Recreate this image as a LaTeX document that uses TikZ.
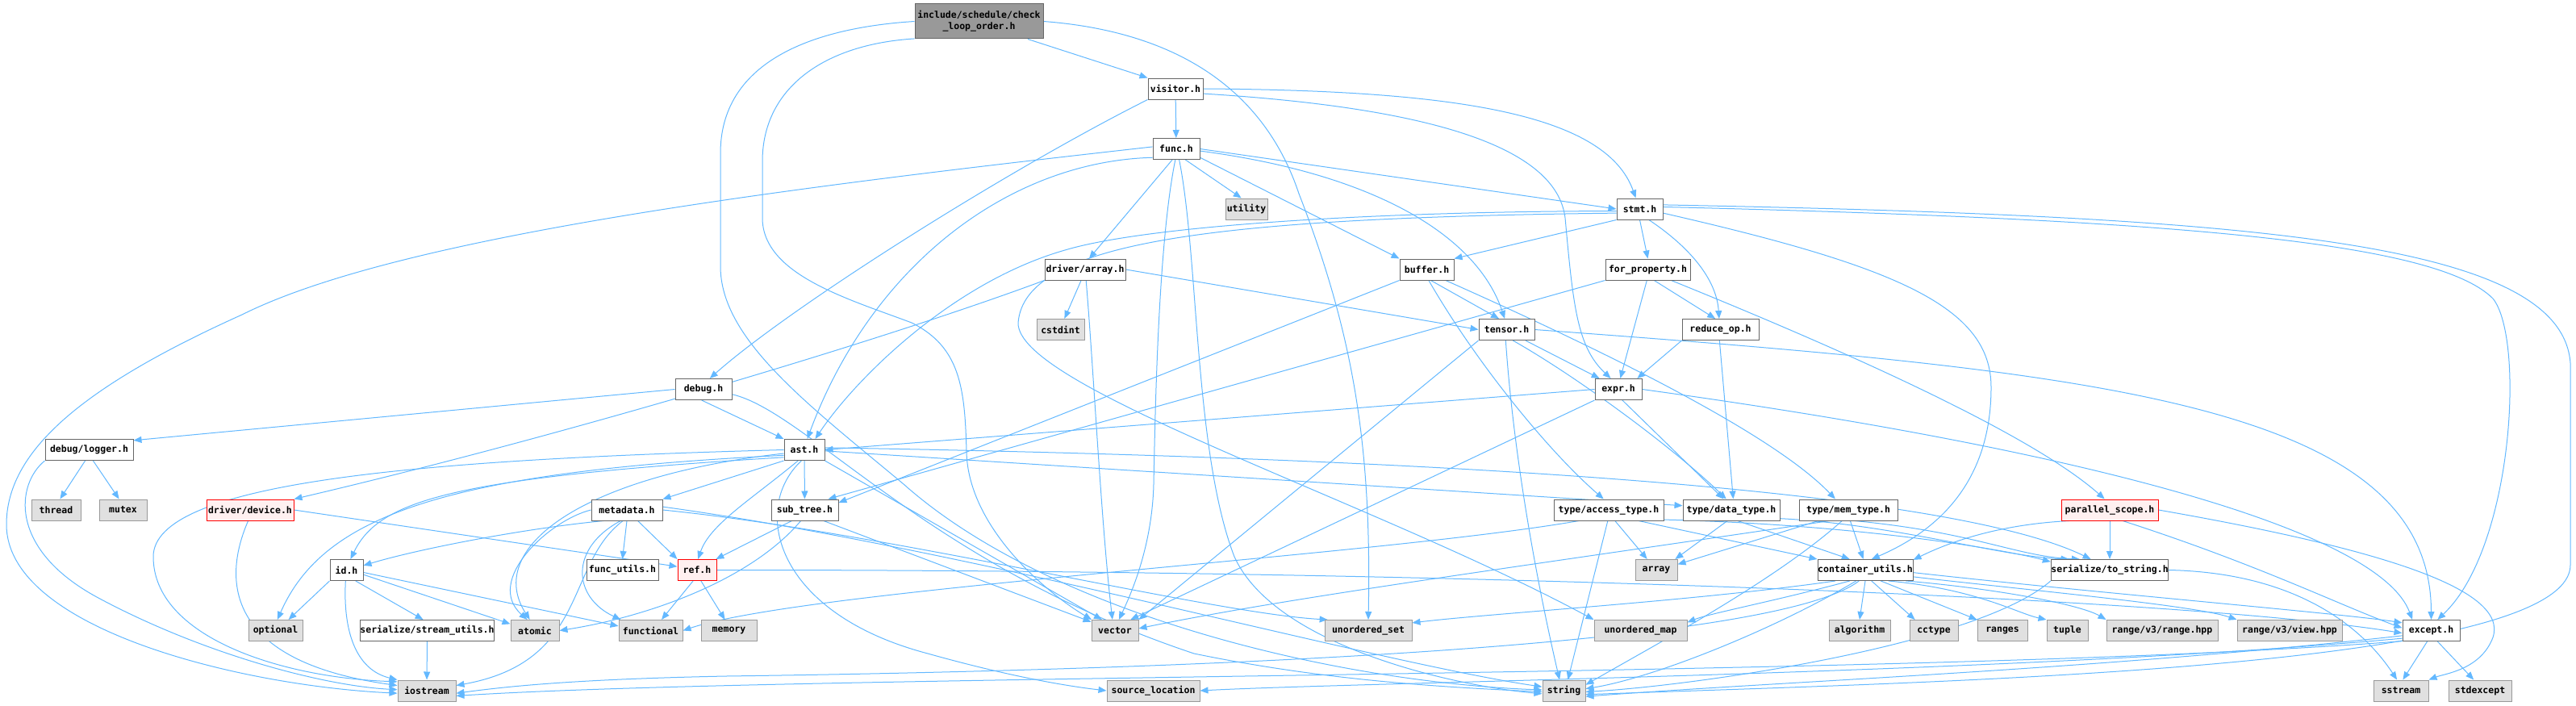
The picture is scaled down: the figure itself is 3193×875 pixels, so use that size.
\documentclass[tikz,border=0pt]{standalone}
\usepackage{fontspec}
\newfontfamily\gf{DejaVu Sans Mono}
\usetikzlibrary{arrows.meta}
\pgfdeclarelayer{bg}
\pgfsetlayers{bg,main}
\definecolor{edgec}{HTML}{63B8FF}
\definecolor{bordc}{HTML}{666666}
\definecolor{sysf}{HTML}{E0E0E0}
\definecolor{sysb}{HTML}{999999}
\definecolor{rootf}{HTML}{999999}
\definecolor{redf}{HTML}{FFF0F0}
\definecolor{redb}{HTML}{FF0000}
\tikzset{
 nd/.style={rectangle, draw=bordc, fill=white, line width=1pt, inner sep=0pt, text=black,
   font=\gf\bfseries\fontsize{11.5}{14}\selectfont},
 sys/.style={nd, fill=sysf, draw=sysb},
 rootn/.style={nd, fill=rootf, draw=bordc, align=center},
 redn/.style={nd, fill=redf, draw=redb},
 sz/.style 2 args={minimum width=#1pt, minimum height=#2pt},
 edg/.style={draw=edgec, line width=1pt, -{Triangle[length=10pt,width=8pt]}},
}
\begin{document}
\begin{tikzpicture}[x=1pt,y=-1pt]
\useasboundingbox (0,0) rectangle (3193,875);
% nodes
\node[rootn, sz={159}{43}] (root) at (1213.5,26.5) {include/schedule/check\\\_loop\_order.h};
\node[nd, sz={68}{26}] (visitor) at (1457,110) {visitor.h};
\node[nd, sz={58}{26}] (func) at (1458,184.5) {func.h};
\node[sys, sz={52}{26}] (utility) at (1545,259) {utility};
\node[nd, sz={100}{26}] (darray) at (1345,334) {driver/array.h};
\node[sys, sz={59}{26}] (cstdint) at (1314.5,408.5) {cstdint};
\node[nd, sz={57}{26}] (stmt) at (2032.5,259) {stmt.h};
\node[nd, sz={67}{26}] (buffer) at (1768.5,334) {buffer.h};
\node[nd, sz={105}{26}] (forprop) at (2042.5,334) {for\_property.h};
\node[nd, sz={69}{26}] (tensor) at (1867.5,408.5) {tensor.h};
\node[nd, sz={95}{26}] (reduceop) at (2132.5,408.5) {reduce\_op.h};
\node[nd, sz={70}{26}] (debug) at (872,482.5) {debug.h};
\node[nd, sz={58}{26}] (expr) at (2006,482.5) {expr.h};
\node[nd, sz={109}{26}] (logger) at (110.5,557.5) {debug/logger.h};
\node[nd, sz={50}{26}] (ast) at (997,557.5) {ast.h};
\node[sys, sz={61}{26}] (thread) at (69.5,632) {thread};
\node[sys, sz={59}{26}] (mutex) at (152.5,632) {mutex};
\node[redn, sz={108}{26}] (device) at (310,632) {driver/device.h};
\node[nd, sz={88}{26}] (metadata) at (777,632) {metadata.h};
\node[nd, sz={83}{26}] (subtree) at (997.5,632) {sub\_tree.h};
\node[nd, sz={136}{26}] (acctype) at (1994,632) {type/access\_type.h};
\node[nd, sz={120}{26}] (datatype) at (2146,632) {type/data\_type.h};
\node[nd, sz={122}{26}] (memtype) at (2291,632) {type/mem\_type.h};
\node[redn, sz={120}{26}] (pscope) at (2615,632) {parallel\_scope.h};
\node[nd, sz={41}{26}] (id) at (429.5,706.5) {id.h};
\node[nd, sz={89}{26}] (futils) at (771.5,706.5) {func\_utils.h};
\node[redn, sz={48}{26}] (ref) at (864,706.5) {ref.h};
\node[sys, sz={52}{26}] (array) at (2053,706.5) {array};
\node[nd, sz={118}{26}] (cutils) at (2312,706.5) {container\_utils.h};
\node[nd, sz={136}{26}] (tostr) at (2615,706.5) {serialize/to\_string.h};
\node[sys, sz={67}{26}] (optional) at (341.5,781.5) {optional};
\node[nd, sz={157}{26}] (sutils) at (529.5,781.5) {serialize/stream\_utils.h};
\node[sys, sz={60}{26}] (atomic) at (663,781.5) {atomic};
\node[sys, sz={79}{26}] (functional) at (806.5,781.5) {functional};
\node[sys, sz={69}{26}] (memory) at (903.5,781.5) {memory};
\node[sys, sz={58}{26}] (vector) at (1382,781.5) {vector};
\node[sys, sz={108}{26}] (uset) at (1696,781.5) {unordered\_set};
\node[sys, sz={115}{26}] (umap) at (2033.5,781.5) {unordered\_map};
\node[sys, sz={76}{26}] (algorithm) at (2305,781.5) {algorithm};
\node[sys, sz={60}{26}] (cctype) at (2397,781.5) {cctype};
\node[sys, sz={62}{26}] (ranges) at (2482,781.5) {ranges};
\node[sys, sz={51}{26}] (tuple) at (2562.5,781.5) {tuple};
\node[sys, sz={138}{26}] (rangehpp) at (2680,781.5) {range/v3/range.hpp};
\node[sys, sz={130}{26}] (viewhpp) at (2838,781.5) {range/v3/view.hpp};
\node[nd, sz={71}{26}] (except) at (3013.5,781.5) {except.h};
\node[sys, sz={72}{26}] (iostream) at (529,856) {iostream};
\node[sys, sz={115}{26}] (srcloc) at (1429.5,856) {source\_location};
\node[sys, sz={53}{26}] (string) at (1938.5,856) {string};
\node[sys, sz={68}{26}] (sstream) at (2976,856) {sstream};
\node[sys, sz={78}{26}] (stdexcept) at (3074,856) {stdexcept};

\begin{pgfonlayer}{bg}
% root
\draw[edg] (root.-20) -- (visitor.north west);
\draw[edg] (root.west) .. controls (1000,35) and (893,80) .. (893,190) -- (893,330) .. controls (893,420) and (1000,500) .. (1120,600) .. controls (1300,760) and (1650,845) .. (string.178);
\draw[edg] (root.195) .. controls (1020,55) and (945,110) .. (945,200) -- (945,270) .. controls (945,340) and (1050,370) .. (1130,400) .. controls (1190,430) and (1196,480) .. (1198,560) .. controls (1200,650) and (1290,730) .. (vector.155);
\draw[edg] (root.east) .. controls (1470,40) and (1570,120) .. (1610,240) .. controls (1680,420) and (1700,560) .. (uset.north);
% visitor
\draw[edg] (visitor) -- (func);
\draw[edg] (visitor.east) .. controls (1800,112) and (1990,140) .. (stmt.110);
\draw[edg] (visitor.-10) .. controls (1800,135) and (1930,190) .. (1940,270) .. controls (1950,380) and (1955,430) .. (expr.125);
\draw[edg] (visitor.south west) .. controls (1250,210) and (980,380) .. (debug.60);
% func
\draw[edg] (func.east) -- (stmt.west);
\draw[edg] (func.-20) -- (buffer.north west);
\draw[edg] (func.-5) .. controls (1700,215) and (1830,290) .. (tensor.100);
\draw[edg] (func.250) -- (darray.70);
\draw[edg] (func.-50) -- (utility.115);
\draw[edg] (func.200) .. controls (1250,200) and (1080,330) .. (ast.75);
\draw[edg] (func.175) .. controls (1000,230) and (500,290) .. (300,390) .. controls (100,480) and (8,560) .. (8,650) .. controls (8,780) and (300,850) .. (iostream.185);
\draw[edg] (func.265) .. controls (1436,300) and (1432,500) .. (1430,600) .. controls (1428,680) and (1400,740) .. (vector.70);
\draw[edg] (func.285) .. controls (1486,320) and (1480,560) .. (1530,690) .. controls (1580,800) and (1800,850) .. (string.188);
% driver/array
\draw[edg] (darray.south west) .. controls (1100,420) and (700,540) .. (device.north east);
\draw[edg] (darray.250) -- (cstdint.70);
\draw[edg] (darray.275) .. controls (1355,450) and (1365,650) .. (vector.103);
\draw[edg] (darray.east) -- (tensor.west);
% stmt
\draw[edg] (stmt.185) .. controls (1700,262) and (1420,280) .. (1320,310) .. controls (1180,350) and (1060,470) .. (ast.45);
\draw[edg] (stmt.south west) -- (buffer.north east);
\draw[edg] (stmt.south) -- (forprop.north);
\draw[edg] (stmt.-50) .. controls (2100,310) and (2128,350) .. (reduceop.97);
\draw[edg] (stmt.5) .. controls (2700,272) and (3020,300) .. (3090,370) .. controls (3130,420) and (3115,680) .. (except.60);
\draw[edg] (stmt.10) .. controls (2800,268) and (3175,300) .. (3186,450) -- (3186,700) .. controls (3186,830) and (2400,845) .. (string.-10);
\draw[edg] (stmt.-10) .. controls (2350,330) and (2468,380) .. (2468,480) .. controls (2468,580) and (2420,650) .. (cutils.60);
\draw[edg] (stmt.190) .. controls (1500,270) and (1270,300) .. (1262,400) .. controls (1260,480) and (1700,620) .. (umap.north west);
% for_property
\draw[edg] (forprop.-60) -- (reduceop.115);
\draw[edg] (forprop.265) -- (expr.80);
\draw[edg] (forprop.south west) -- (subtree.25);
\draw[edg] (forprop.-25) .. controls (2300,440) and (2520,540) .. (pscope.115);
% buffer
\draw[edg] (buffer.-70) -- (tensor.125);
\draw[edg] (buffer.south west) -- (subtree.12);
\draw[edg] (buffer.-80) .. controls (1830,450) and (1920,560) .. (acctype.115);
\draw[edg] (buffer.-30) .. controls (2000,440) and (2200,540) .. (memtype.140);
% tensor
\draw[edg] (tensor.-30) -- (expr.150);
\draw[edg] (tensor.-60) .. controls (1960,470) and (2080,560) .. (datatype.115);
\draw[edg] (tensor.south west) -- (vector.north east);
\draw[edg] (tensor.265) .. controls (1875,550) and (1900,700) .. (string.112);
\draw[edg] (tensor.east) .. controls (2600,460) and (3013,500) .. (except.north);
% reduce_op
\draw[edg] (reduceop.south west) -- (expr.30);
\draw[edg] (reduceop.265) -- (datatype.80);
% expr
\draw[edg] (expr.west) -- (ast.east);
\draw[edg] (expr.south west) -- (vector.35);
\draw[edg] (expr.-70) -- (datatype.125);
\draw[edg] (expr.east) .. controls (2600,560) and (2950,660) .. (except.150);
% debug
\draw[edg] (debug.west) -- (logger.12);
\draw[edg] (debug.-100) -- (ast.north west);
\draw[edg] (debug.-10) .. controls (1000,510) and (1150,700) .. (1480,810) .. controls (1650,845) and (1800,852) .. (string.183);
% logger
\draw[edg] (logger.250) -- (thread.70);
\draw[edg] (logger.290) -- (mutex.110);
\draw[edg] (logger.south west) .. controls (20,600) and (10,680) .. (120,740) .. controls (250,810) and (400,850) .. (iostream.178);
% device
\draw[edg] (device.260) .. controls (275,720) and (280,820) .. (iostream.170);
\draw[edg] (device.east) -- (ref.170);
% ast
\draw[edg] (ast) -- (subtree);
\draw[edg] (ast.south west) -- (metadata.north east);
\draw[edg] (ast.west) .. controls (500,570) and (190,600) .. (190,690) .. controls (190,790) and (350,840) .. (iostream.163);
\draw[edg] (ast.195) .. controls (550,585) and (400,640) .. (optional.80);
\draw[edg] (ast.200) .. controls (560,592) and (470,620) .. (id.70);
\draw[edg] (ast.190) .. controls (720,590) and (600,680) .. (atomic.115);
\draw[edg] (ast.240) .. controls (930,620) and (880,650) .. (ref.85);
\draw[edg] (ast.255) .. controls (930,630) and (960,760) .. (1150,810) .. controls (1250,838) and (1320,850) .. (srcloc.west);
\draw[edg] (ast.south east) -- (vector.140);
\draw[edg] (ast.-3) -- (datatype.175);
\draw[edg] (ast.6) .. controls (1700,566) and (2400,600) .. (tostr.150);
% metadata
\draw[edg] (metadata.west) .. controls (680,645) and (600,720) .. (atomic.125);
\draw[edg] (metadata.205) .. controls (650,655) and (520,680) .. (id.15);
\draw[edg] (metadata.250) .. controls (700,700) and (730,820) .. (iostream.10);
\draw[edg] (metadata.240) .. controls (705,680) and (710,740) .. (functional.160);
\draw[edg] (metadata.south) -- (futils.north);
\draw[edg] (metadata.-45) -- (ref.north west);
\draw[edg] (metadata.east) .. controls (1100,660) and (1500,760) .. (uset.165);
\draw[edg] (metadata.5) .. controls (1200,680) and (1700,820) .. (string.170);
% id
\draw[edg] (id.south west) -- (optional.40);
\draw[edg] (id.265) .. controls (425,780) and (440,830) .. (iostream.north west);
\draw[edg] (id.-50) -- (sutils.110);
\draw[edg] (id.-15) -- (atomic.165);
\draw[edg] (id.-8) -- (functional.172);
% stream utils
\draw[edg] (sutils) -- (iostream);
% ref
\draw[edg] (ref.250) -- (functional.45);
\draw[edg] (ref.-70) -- (memory.110);
\draw[edg] (ref.east) .. controls (1800,706) and (2700,740) .. (except.185);
% sub_tree
\draw[edg] (subtree.220) -- (ref.30);
\draw[edg] (subtree.250) .. controls (930,720) and (800,765) .. (atomic.east);
\draw[edg] (subtree.-30) -- (vector.160);
% access_type
\draw[edg] (acctype.-60) -- (array.130);
\draw[edg] (acctype.-95) -- (string.70);
\draw[edg] (acctype.-20) -- (cutils.north west);
\draw[edg] (acctype.-10) .. controls (2300,650) and (2480,680) .. (tostr.172);
\draw[edg] (acctype.200) .. controls (1700,690) and (1000,730) .. (functional.east);
% data_type
\draw[edg] (datatype.250) -- (array.30);
\draw[edg] (datatype.-60) -- (cutils.145);
\draw[edg] (datatype.-10) .. controls (2350,650) and (2480,690) .. (tostr.165);
% mem_type
\draw[edg] (memtype.200) -- (array.15);
\draw[edg] (memtype.-80) -- (cutils.100);
\draw[edg] (memtype.-60) .. controls (2450,660) and (2500,690) .. (tostr.160);
\draw[edg] (memtype.-120) .. controls (2200,720) and (2050,800) .. (string.15);
\draw[edg] (memtype.210) .. controls (1900,700) and (1600,740) .. (vector.5);
% container_utils
\draw[edg] (cutils.south) -- (algorithm.north);
\draw[edg] (cutils.-60) -- (cctype.150);
\draw[edg] (cutils.-35) -- (ranges.north west);
\draw[edg] (cutils.-25) .. controls (2450,730) and (2500,760) .. (tuple.north west);
\draw[edg] (cutils.-15) .. controls (2480,730) and (2580,750) .. (rangehpp.north west);
\draw[edg] (cutils.-8) .. controls (2500,730) and (2720,750) .. (viewhpp.north west);
\draw[edg] (cutils.-3) .. controls (2600,735) and (2900,760) .. (except.165);
\draw[edg] (cutils.200) .. controls (2100,745) and (1850,760) .. (uset.10);
\draw[edg] (cutils.215) .. controls (2200,745) and (2120,760) .. (umap.10);
\draw[edg] (cutils.230) .. controls (2200,780) and (2050,840) .. (string.5);
\draw[edg] (cutils.240) .. controls (2200,800) and (1500,830) .. (900,838) .. controls (700,842) and (620,852) .. (iostream.-5);
% parallel_scope
\draw[edg] (pscope.south) -- (tostr.north);
\draw[edg] (pscope.195) .. controls (2480,650) and (2420,670) .. (cutils.12);
\draw[edg] (pscope.-40) .. controls (2800,700) and (2900,750) .. (except.175);
\draw[edg] (pscope.east) .. controls (2950,680) and (3110,730) .. (3090,790) .. controls (3075,830) and (3030,835) .. (sstream.north east);
% to_string
\draw[edg] (tostr.east) .. controls (2850,710) and (2930,780) .. (sstream.110);
\draw[edg] (tostr.south west) .. controls (2450,800) and (2100,850) .. (string.-3);
% except
\draw[edg] (except.250) -- (sstream.80);
\draw[edg] (except.-60) -- (stdexcept.120);
\draw[edg] (except.190) .. controls (2600,830) and (2200,845) .. (string.-15);
\draw[edg] (except.195) .. controls (2500,835) and (1700,845) .. (srcloc.east);
\draw[edg] (except.200) .. controls (2400,840) and (1000,835) .. (iostream.-10);
\end{pgfonlayer}
\end{tikzpicture}
\end{document}
